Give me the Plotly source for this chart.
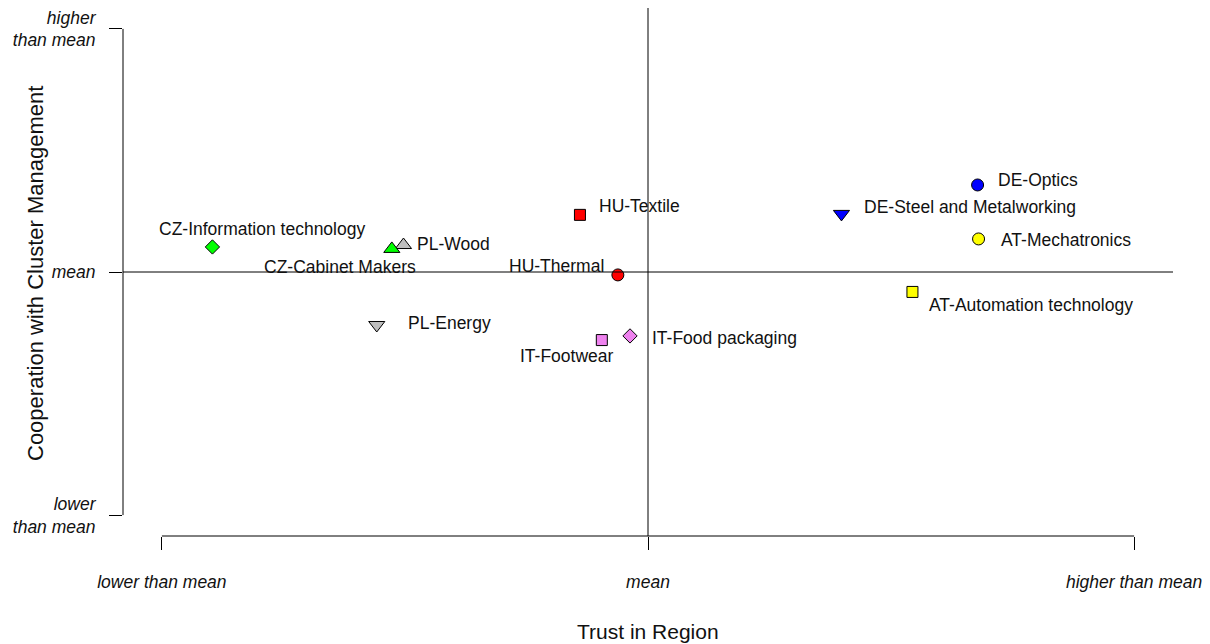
import plotly.graph_objects as go

# ---- data ----
clusters = ["CZ-Information technology", "PL-Wood", "CZ-Cabinet Makers", "PL-Energy",
            "HU-Textile", "HU-Thermal", "IT-Footwear", "IT-Food packaging",
            "DE-Optics", "DE-Steel and Metalworking", "AT-Mechatronics",
            "AT-Automation technology"]
trust_in_region = [-0.896, -0.503, -0.527, -0.558, -0.140, -0.062, -0.095, -0.037,
                   0.678, 0.398, 0.680, 0.544]
cooperation_cm = [0.103, 0.111, 0.095, -0.218, 0.235, -0.012, -0.280, -0.263,
                  0.358, 0.239, 0.136, -0.082]
tick_vals = [-1, 0, 1]
x_tick_labels = ["lower than mean", "mean", "higher than mean"]
y_tick_labels = ["lower<br>than mean", "mean", "higher<br>than mean"]

# ---- styles ----
symbols = ["diamond", "triangle-up", "triangle-up", "triangle-down", "square", "circle",
           "square", "diamond", "circle", "triangle-down", "circle", "square"]
colors = ["#00FF00", "#BEBEBE", "#00FF00", "#BEBEBE", "#FF0000", "#FF0000",
          "#EE82EE", "#EE82EE", "#0000FF", "#0000FF", "#FFFF00", "#FFFF00"]
sizes = [11, 14, 14, 14, 11, 12, 11, 11, 12, 14, 12, 11]
# label offsets in pixels (xshift, yshift, xanchor)
label_offsets = [(-55, 18, "left"), (12, 1, "left"), (26, -18, "right"), (29, 2, "left"),
                 (17, 9, "left"), (-12, 9, "right"), (14, -16, "right"), (20, -2, "left"),
                 (18, 5, "left"), (21, 7, "left"), (20, -1, "left"), (15, -13, "left")]

FONT = "Liberation Sans, Arial, sans-serif"

fig = go.Figure()
fig.add_trace(go.Scatter(
    x=trust_in_region, y=cooperation_cm, mode="markers",
    marker=dict(symbol=symbols, color=colors, size=sizes, opacity=1,
                line=dict(color="black", width=1)),
    hovertext=clusters, hoverinfo="text", showlegend=False))

for name, xv, yv, (dx, dy, anc) in zip(clusters, trust_in_region, cooperation_cm, label_offsets):
    fig.add_annotation(x=xv, y=yv, text=name, showarrow=False, xanchor=anc,
                       yanchor="middle", xshift=dx, yshift=dy,
                       font=dict(family=FONT, size=17.5, color="#111111"))

# reference lines at mean
fig.add_shape(type="line", xref="paper", yref="y", x0=0, x1=1, y0=0, y1=0,
              line=dict(color="black", width=1))
fig.add_shape(type="line", xref="x", yref="paper", x0=0, x1=0, y0=0, y1=1,
              line=dict(color="black", width=1))
# R-style axis lines spanning the tick range
fig.add_shape(type="line", xref="paper", yref="y", x0=0, x1=0, y0=-1, y1=1,
              line=dict(color="black", width=1))
fig.add_shape(type="line", xref="x", yref="paper", x0=-1, x1=1, y0=0, y1=0,
              line=dict(color="black", width=1))

# axis titles
fig.add_annotation(xref="paper", yref="paper", x=0.5, y=0, yanchor="middle", yshift=-95,
                   text="Trust in Region", showarrow=False,
                   font=dict(family=FONT, size=21, color="#111111"))
fig.add_annotation(xref="paper", yref="paper", x=0, y=0.5, xanchor="center", xshift=-88,
                   yshift=-2, textangle=-90, text="Cooperation with Cluster Management",
                   showarrow=False, font=dict(family=FONT, size=22, color="#111111"))

fig.update_xaxes(range=[-1.08, 1.08], tickvals=tick_vals, ticktext=x_tick_labels,
                 showgrid=False, zeroline=False, showline=False, ticks="outside",
                 ticklen=13, tickwidth=1, tickcolor="black", ticklabelstandoff=17,
                 tickfont=dict(family=FONT, size=17.5, color="#111111", style="italic"))
fig.update_yaxes(range=[-1.086, 1.086], tickvals=tick_vals, ticktext=y_tick_labels,
                 showgrid=False, zeroline=False, showline=False, ticks="outside",
                 ticklen=13, tickwidth=1, tickcolor="black", ticklabelstandoff=10,
                 ticklabeloverflow="allow",
                 tickfont=dict(family=FONT, size=17.5, color="#111111", style="italic"))

# page body has an 8px margin, so the figure is 8px smaller on each side
fig.update_layout(width=1202, height=636, plot_bgcolor="white", paper_bgcolor="white",
                  margin=dict(l=115, r=37, t=0, b=108), font=dict(family=FONT))

fig.write_html("out.html")
